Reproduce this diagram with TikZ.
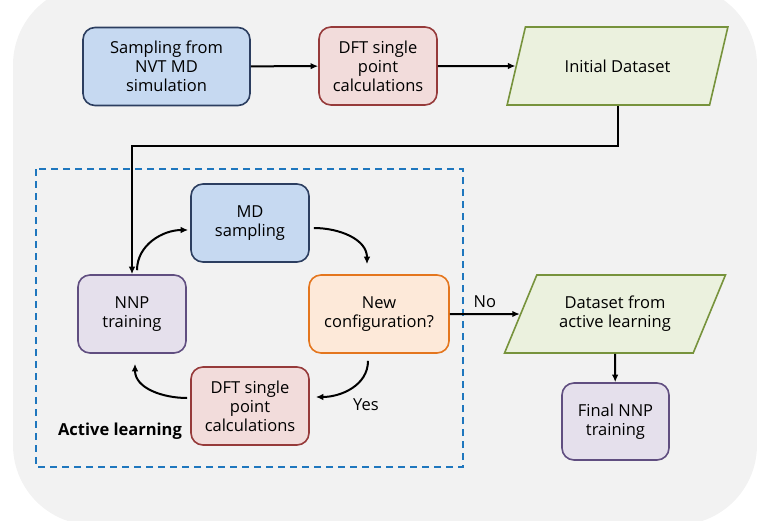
\documentclass[tikz,border=0pt]{standalone}
\usepackage{fontspec}
\setmainfont{Open Sans}
\usetikzlibrary{arrows.meta,shapes.geometric}
\definecolor{bgray}{RGB}{242,242,242}
\definecolor{bluline}{RGB}{44,62,96}
\definecolor{blufill}{RGB}{198,217,241}
\definecolor{redline}{RGB}{150,58,58}
\definecolor{redfill}{RGB}{242,220,219}
\definecolor{grnline}{RGB}{119,147,60}
\definecolor{grnfill}{RGB}{235,241,222}
\definecolor{purline}{RGB}{96,78,128}
\definecolor{purfill}{RGB}{229,224,236}
\definecolor{orgline}{RGB}{228,118,30}
\definecolor{orgfill}{RGB}{253,233,217}
\definecolor{dashblue}{RGB}{31,119,190}
\tikzset{
  box/.style={draw, rounded corners=12pt, line width=1.6pt, align=center,
    inner sep=2pt, minimum height=78pt},
  bluebox/.style={box, draw=bluline, fill=blufill},
  redbox/.style={box, draw=redline, fill=redfill, minimum width=118pt},
  purbox/.style={box, draw=purline, fill=purfill},
  orgbox/.style={box, draw=orgline, fill=orgfill, minimum width=140pt},
  databox/.style={trapezium, trapezium left angle=60, trapezium right angle=120,
    trapezium stretches=true, draw=grnline, fill=grnfill, line width=1.6pt,
    align=center, minimum width=221pt, minimum height=78pt},
  arr/.style={-{Latex[length=7.5pt,width=6.5pt]}, line width=2pt},
}
\begin{document}
\begin{tikzpicture}[x=1pt,y=-1pt,font=\fontsize{16.5}{19}\selectfont]
  \useasboundingbox (0,0) rectangle (757,520);
  \begin{scope}
    \clip (0,0) rectangle (757,520);
    \fill[bgray, rounded corners=80pt] (13,-15) rectangle (757,525);
  \end{scope}

  \node[bluebox, minimum width=167pt] (samp) at (166.5,66.5) {Sampling from\\NVT MD\\simulation};
  \node[redbox] (dft1) at (378,66) {DFT single\\point\\calculations};
  \node[databox] (init) at (617.5,66) {Initial Dataset};

  \draw[dashblue, line width=1.8pt, dash pattern=on 7pt off 5pt] (36,169) rectangle (463,467);
  \node[font=\fontsize{16.5}{19}\selectfont\bfseries] (act) at (120,431) {Active learning};

  \node[bluebox, minimum width=118pt] (md) at (250,223) {MD\\sampling};
  \node[purbox, minimum width=108pt] (nnp) at (132,314) {NNP\\training};
  \node[orgbox] (conf) at (379,314) {New\\configuration?};
  \node[redbox] (dft2) at (250,406) {DFT single\\point\\calculations};

  \node[databox] (aldata) at (615,314) {Dataset from\\active learning};
  \node[purbox, minimum width=107pt, minimum height=77pt] (final) at (615.5,421.5) {Final NNP\\training};

  \draw[arr] (samp) -- (dft1);
  \draw[arr] (dft1) -- (init.west);
  \draw[arr] (init.south) -- ++(0,40) -| (nnp.north);

  \draw[arr] ([xshift=5pt,yshift=4pt]nnp.north) to[out=90,in=180] ([xshift=-2pt,yshift=-7pt]md.west);
  \draw[arr] ([xshift=4pt,yshift=-5pt]md.east) to[out=0,in=90] ([xshift=-12pt,yshift=10pt]conf.north);
  \draw[arr] ([xshift=-11pt,yshift=-7pt]conf.south) to[out=-90,in=0] ([xshift=6pt,yshift=9pt]dft2.east);
  \draw[arr] ([xshift=-3pt,yshift=8pt]dft2.west) to[out=180,in=-90] ([xshift=3pt,yshift=-10pt]nnp.south);
  \node (yes) at (366,405) {Yes};

  \draw[arr] (conf) -- node[above=2pt] (no) {No} (aldata.west);
  \draw[arr] (aldata.south) -- (final);
\end{tikzpicture}
\end{document}
